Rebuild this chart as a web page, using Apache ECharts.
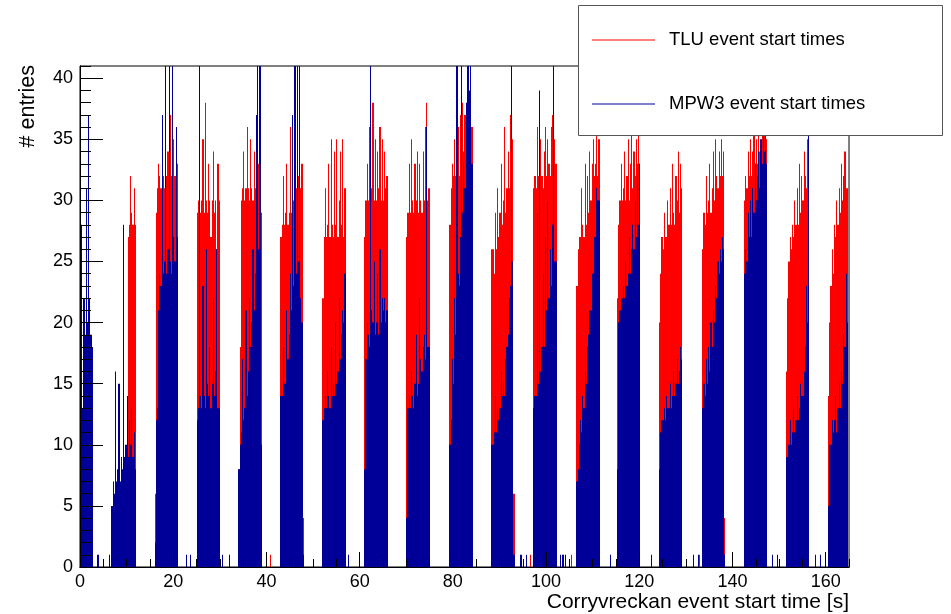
<!DOCTYPE html>
<html><head><meta charset="utf-8">
<script src="https://cdn.jsdelivr.net/npm/echarts@6/dist/echarts.min.js"></script>
<style>html,body{margin:0;padding:0;background:#fff}#c{width:951px;height:614px}</style>
</head><body><div id="c"></div><script>
// ---- data (histogram, 0.25 s bins) ----
const binWidth = 0.25;
const xMax = 165;
const burstStart = [0, 6.75, 16.0, 25.0, 34.0, 43.0, 52.0, 61.0, 70.0, 79.25, 88.25, 97.25, 106.5, 115.25, 124.25, 133.5, 142.5, 151.5, 160.5];
const tluBursts = [
  [],
  [0,0,0,0,0,0,0,0,0,0,0,0,0,0,27,28,32,29,28,31,28],
  [6,29,31,33,32,31,35,32,31,36,32,34,31,37,32,31,35,32,36,33],
  [29,30,33,29,30,35,29,38,30,29,33,30,27,30,34,29,30,26,33,30],
  [8,18,30,31,34,30,31,36,31,30,35,31,30,34,31,36,31,33,30,29],
  [27,28,32,28,29,33,28,29,36,29,35,30,37,31,38,32,33,31,33,4],
  [22,27,31,27,28,33,27,35,28,27,34,28,35,27,30,34,28,35,27,31],
  [27,30,33,30,36,30,31,38,30,35,30,34,31,36,30,35,30,34,31,32],
  [27,29,33,29,35,30,29,33,30,34,29,33,30,29,34,30,36,38,30,31],
  [28,31,33,32,35,32,33,36,32,37,33,38,34,37,35,39,41,38,36,36],
  [26,26,24,29,26,31,27,29,33,28,30,36,29,31,34,31,37,32,35,6],
  [31,32,31,36,32,33,35,32,31,34,36,32,35,33,32,36,37,33,35,33],
  [23,26,27,27,31,28,27,33,28,32,29,34,30,33,35,32,33,36,32,35],
  [22,28,30,33,30,31,34,30,32,35,30,33,36,31,34,32,35,33,37,33],
  [20,24,27,26,29,27,27,30,28,31,28,33,29,28,32,30,34,29,33,31],
  [26,29,28,32,29,30,33,29,31,34,30,35,32,31,34,32,35,32,34,4],
  [30,32,31,34,32,35,32,34,36,33,35,33,37,34,33,36,34,38,35,35],
  [16,22,25,27,26,28,27,30,28,31,28,33,29,32,30,34,32,31,35,33],
  [14,20,23,26,24,28,27,30,28,31,29,33,30,32,34,31,31]
];
const mpwBursts = [
  [13,28,13,22,19,31,20,37,22,19,18],
  [5,7,6,16,7,8,15,7,9,8,28,9,10,14,9,12,10,13,9,11,8],
  [2,12,13,21,24,23,37,24,25,41,24,26,41,25,24,41,27,25,36,27],
  [12,13,41,14,13,23,14,13,26,15,14,18,13,15,22,14,16,26,13,13],
  [8,10,11,17,12,13,21,14,16,22,18,20,26,21,24,37,41,26,41,10],
  [14,14,18,15,15,21,17,19,24,21,37,23,41,24,41,25,41,22,20,1],
  [12,13,14,13,16,14,13,18,14,15,14,20,15,16,22,17,19,21,20,24],
  [8,17,20,19,18,41,21,20,25,19,20,24,19,26,20,22,21,22,20,21],
  [4,13,14,13,16,14,13,15,19,14,15,22,17,16,18,19,17,36,18,18],
  [10,12,17,15,22,19,41,24,23,27,41,29,33,31,38,41,41,39,41,33],
  [10,10,11,14,11,13,12,13,16,14,15,14,17,18,19,22,23,41,25,1],
  [13,14,14,29,15,39,16,18,24,18,27,21,30,22,26,23,28,41,25,25],
  [7,8,10,12,11,14,13,16,15,18,19,21,21,24,24,27,27,31,30,30],
  [8,20,21,22,22,23,22,25,23,24,27,24,26,28,26,30,27,32,28,33],
  [8,11,12,12,13,12,14,13,13,15,13,14,16,14,15,17,15,16,18,17],
  [13,15,14,17,15,18,16,20,18,21,20,23,22,25,24,26,25,27,26,1],
  [24,26,25,29,27,30,27,31,29,33,30,32,34,31,35,33,41,34,36,33],
  [9,9,10,12,10,11,13,11,12,14,12,13,15,14,14,16,18,23,20,41],
  [5,10,10,12,11,12,14,11,13,15,13,16,15,19,18,24,20]
];
const tluSingles = [[40.75,1],[96.5,1],[105.25,1],[132.75,1],[159.75,1]];
const mpwSingles = [[3.75,1],[6.25,1],[22.75,1],[23.5,1],[30.5,1],[32.0,1],[57.5,1],[94.5,1],[95.75,1],[103.0,1],[103.5,1],[104.0,1],[113.75,1],[122.5,1],[131.5,1],[132.5,1],[148.5,1],[149.5,1],[157.75,1],[158.75,1]];
const seriesNames = ['TLU event start times', 'MPW3 event start times'];
const seriesColors = ['#ff0000', '#000099'];
const xTitle = 'Corryvreckan event start time [s]';
const yTitle = '# entries';

// histogram bins as [lowEdge, highEdge, count]
function buildHist(bursts, singles) {
  const n = Math.round(xMax / binWidth);
  const counts = new Array(n).fill(0);
  bursts.forEach((vals, b) => {
    const i0 = Math.round(burstStart[b] / binWidth);
    vals.forEach((v, i) => { if (i0 + i < n) counts[i0 + i] = v; });
  });
  singles.forEach(([t, c]) => { counts[Math.round(t / binWidth)] = c; });
  const data = [];
  counts.forEach((c, i) => { if (c > 0) data.push([i * binWidth, (i + 1) * binWidth, c]); });
  return data;
}
const tluData = buildHist(tluBursts, tluSingles);
const mpwData = buildHist(mpwBursts, mpwSingles);

function histRenderer(color) {
  return function (params, api) {
    const p0 = api.coord([api.value(0), api.value(2)]);
    const p1 = api.coord([api.value(1), 0]);
    const x0 = Math.round(p0[0]);
    let x1 = Math.round(p1[0]);
    if (x1 <= x0) x1 = x0 + 1;
    const rect = echarts.graphic.clipRectByRect(
      {x: x0, y: p0[1], width: x1 - x0, height: p1[1] - p0[1]},
      {x: params.coordSys.x, y: params.coordSys.y, width: params.coordSys.width, height: params.coordSys.height});
    return rect && {type: 'rect', shape: rect, style: {fill: color}};
  };
}

const FONT = '"Liberation Sans", Arial, Helvetica, sans-serif';
const chart = echarts.init(document.getElementById('c'), null, {renderer: 'canvas'});
const axCommon = {axisLine: {show: true, lineStyle: {color: '#000', width: 1}}, splitLine: {show: false}, minorSplitLine: {show: false}};
const legendText = {fontSize: 18.5, color: '#000', fontFamily: FONT, padding: [0, 0, 0, 9], lineHeight: 20};
chart.setOption({
  animation: false,
  backgroundColor: '#fff',
  grid: {left: 80, right: 102, top: 66, bottom: 47, show: true, borderColor: '#000', borderWidth: 1, backgroundColor: 'transparent'},
  xAxis: [
    Object.assign({type: 'value', min: 0, max: xMax, interval: 20, z: 3,
      axisTick: {show: true, inside: true, length: 15, lineStyle: {color: '#000'}},
      axisLabel: {show: true, fontSize: 18, color: '#000', fontFamily: FONT, margin: 6, showMaxLabel: false}}, axCommon),
    Object.assign({type: 'value', min: 0, max: xMax, interval: 5, z: 3, position: 'bottom',
      axisTick: {show: true, inside: true, length: 8, lineStyle: {color: '#000'}},
      axisLabel: {show: false}}, axCommon)
  ],
  yAxis: [
    Object.assign({type: 'value', min: 0, max: 41, interval: 5, z: 3,
      axisTick: {show: true, inside: true, length: 23, lineStyle: {color: '#000'}},
      axisLabel: {show: true, fontSize: 18, color: '#000', fontFamily: FONT, margin: 7, showMaxLabel: false}}, axCommon),
    Object.assign({type: 'value', min: 0, max: 41, interval: 1, z: 3, position: 'left',
      axisTick: {show: true, inside: true, length: 11, lineStyle: {color: '#000'}},
      axisLabel: {show: false}}, axCommon)
  ],
  legend: [
    {data: [seriesNames[0]], left: 592, top: 30, padding: 0, icon: 'rect', itemWidth: 63, itemHeight: 1, selectedMode: false, z: 10, textStyle: legendText},
    {data: [seriesNames[1]], left: 592, top: 94, padding: 0, icon: 'rect', itemWidth: 63, itemHeight: 1, selectedMode: false, z: 10, textStyle: legendText}
  ],
  graphic: [
    {type: 'rect', z: 9, shape: {x: 578.5, y: 5.5, width: 364, height: 130}, style: {fill: '#fff', stroke: '#555', lineWidth: 1}},
    {type: 'text', z: 10, x: 849, y: 602, style: {text: xTitle, font: '21px ' + FONT, fill: '#000', textAlign: 'right', textVerticalAlign: 'middle'}},
    {type: 'text', z: 10, x: 28, y: 65, rotation: Math.PI / 2, style: {text: yTitle, font: '21.5px ' + FONT, fill: '#000', textAlign: 'right', textVerticalAlign: 'middle'}}
  ],
  series: [
    {name: seriesNames[0], type: 'custom', data: tluData, renderItem: histRenderer(seriesColors[0]), encode: {x: [0, 1], y: 2},
      itemStyle: {color: seriesColors[0]}, xAxisIndex: 0, yAxisIndex: 0, z: 2},
    {name: seriesNames[1], type: 'custom', data: mpwData, renderItem: histRenderer(seriesColors[1]), encode: {x: [0, 1], y: 2},
      itemStyle: {color: seriesColors[1]}, xAxisIndex: 0, yAxisIndex: 0, z: 2}
  ]
});
</script></body></html>
